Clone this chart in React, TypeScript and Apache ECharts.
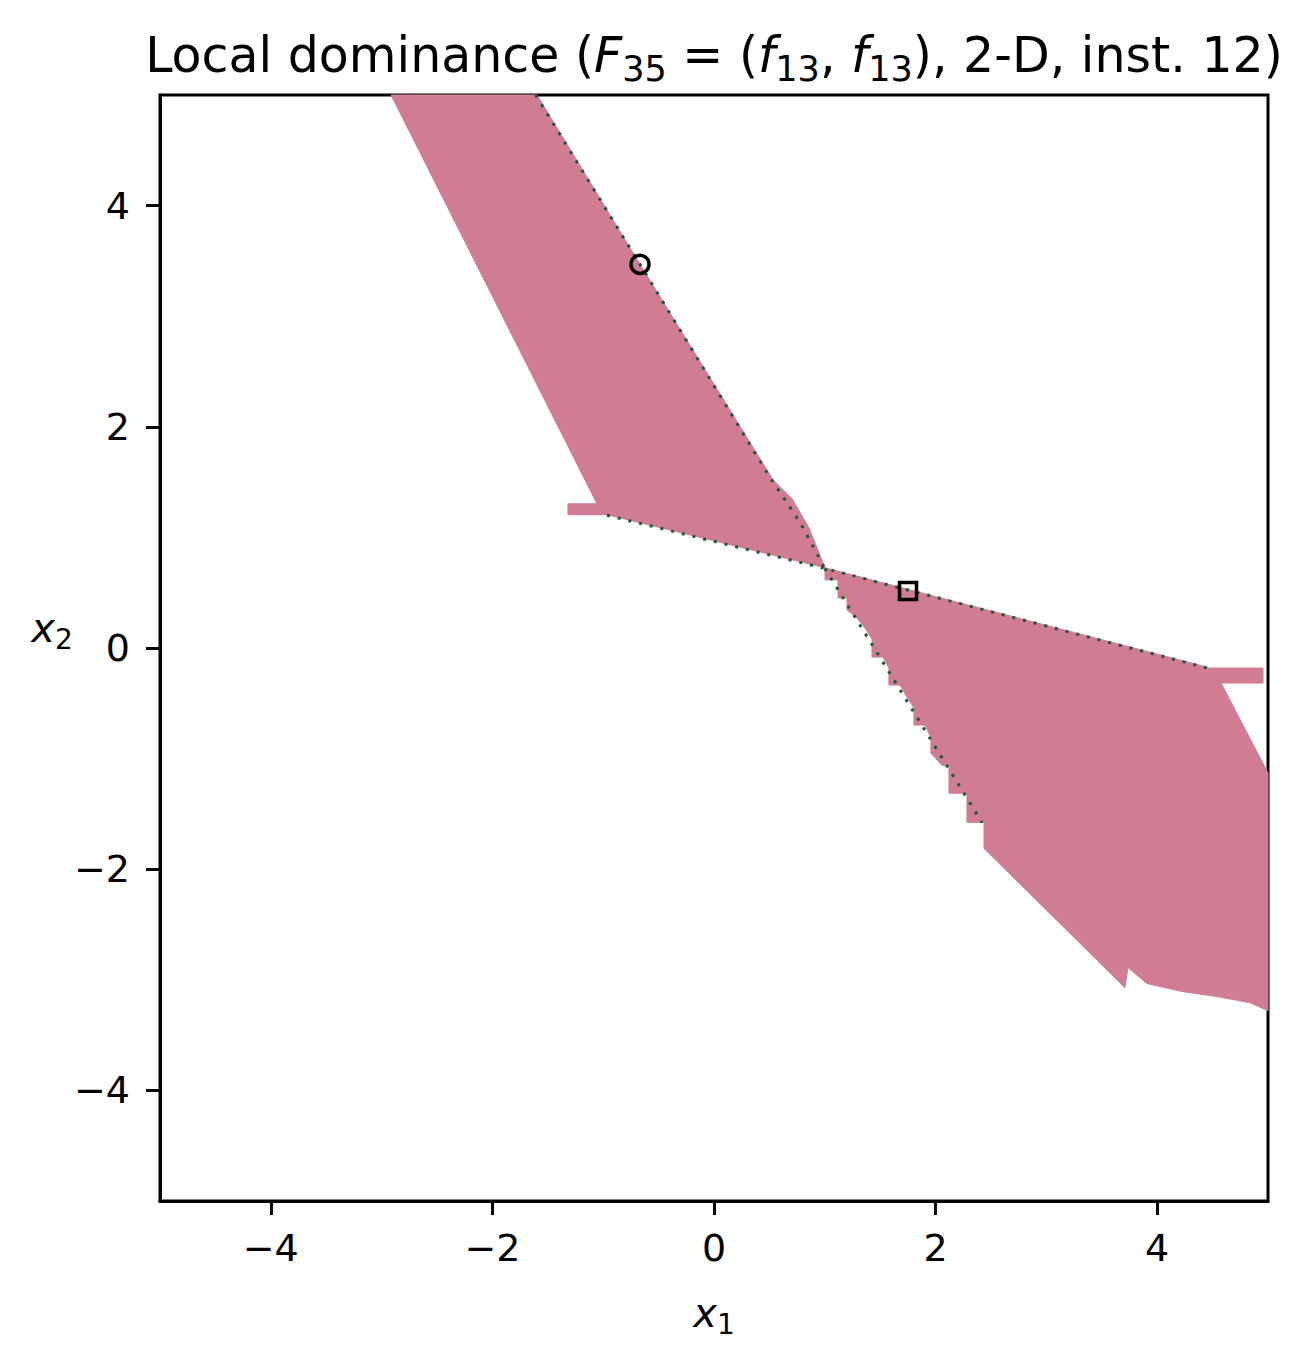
import React, { useEffect, useRef } from "react";
import * as echarts from "echarts";

// Pink region 1 (upper-left lobe), polygon vertices in data coordinates
const upperX = [-2.915, -1.056, -1.318, -1.318, -0.966, 1.002, 0.857, 0.704, 0.532, -0.668, -1.597];
const upperY = [5.0, 1.304, 1.304, 1.205, 1.205, 0.725, 1.087, 1.35, 1.522, 3.469, 5.0];

// Pink region 2 (lower-right lobe)
const lowerX = [1.002, 4.449, 4.449, 4.955, 4.955, 4.576, 5.0, 5.0, 4.838, 4.54, 4.233, 3.908, 3.736, 3.709,
  2.437, 2.437, 2.283, 2.283, 2.121, 2.121, 2.058, 1.958, 1.958, 1.904, 1.805, 1.805, 1.742, 1.679, 1.579,
  1.579, 1.525, 1.426, 1.426, 1.363, 1.282, 1.2, 1.2, 1.119, 1.119, 1.002];
const lowerY = [0.725, -0.172, -0.181, -0.181, -0.317, -0.317, -1.13, -3.279, -3.207, -3.152, -3.107, -3.034, -2.889, -3.071,
  -1.812, -1.576, -1.576, -1.313, -1.313, -1.06, -1.06, -0.951, -0.806, -0.697, -0.697, -0.543, -0.444, -0.335, -0.335,
  -0.181, -0.082, -0.082, 0.082, 0.181, 0.281, 0.344, 0.453, 0.453, 0.616, 0.616];

// Dark-green dotted boundaries
const edgeA: [number, number][] = [[-1.61, 5.0], [-0.668, 3.469], [0.5, 1.55], [0.78, 1.13], [1.0, 0.72]];
const edgeB: [number, number][] = [[-0.966, 1.2], [1.0, 0.72], [4.449, -0.18]];
const edgeC: [number, number][] = [[1.0, 0.72], [1.6, -0.25], [2.42, -1.58]];

// Markers
const circlePoint: [number, number][] = [[-0.668, 3.469]];
const squarePoint: [number, number][] = [[1.751, 0.516]];

const xTicks = [-4, -2, 0, 2, 4];
const yTicks = [-4, -2, 0, 2, 4];

const PINK = "#d07c93";
const GREEN = "#145a38";
const FONT = "DejaVu Sans";

const polygons = [
  { xs: upperX, ys: upperY },
  { xs: lowerX, ys: lowerY },
];

const fmt = (v: number) => (v < 0 ? "\u2212" + Math.abs(v) : String(v));

export default function App() {
  const ref = useRef<HTMLDivElement>(null);
  useEffect(() => {
    document.body.style.margin = "0";
    const chart = echarts.init(ref.current!, null, { renderer: "svg" });
    const dotted = (data: [number, number][]) => ({
      type: "line",
      data,
      symbol: "none",
      silent: true,
      z: 3,
      lineStyle: { color: GREEN, width: 3, type: [3, 8], opacity: 1 },
    });
    const axisCommon = (ticks: number[], margin: number) => ({
      type: "value",
      min: -5,
      max: 5,
      splitLine: { show: false },
      axisLine: { show: true, onZero: false, lineStyle: { color: "#000", width: 3 } },
      axisTick: { show: true, inside: false, length: 14, lineStyle: { color: "#000", width: 3 }, customValues: ticks },
      axisLabel: {
        customValues: ticks,
        formatter: fmt,
        color: "#000",
        fontSize: 38,
        fontFamily: FONT,
        margin,
      },
    });
    chart.setOption({
      animation: false,
      backgroundColor: "#ffffff",
      grid: {
        left: 160,
        right: 46,
        top: 95,
        bottom: 162,
        show: true,
        borderColor: "#000",
        borderWidth: 3,
        backgroundColor: "transparent",
      },
      xAxis: axisCommon(xTicks, 28),
      yAxis: axisCommon(yTicks, 30),
      series: [
        {
          type: "custom",
          coordinateSystem: "cartesian2d",
          data: [[0, 0], [1, 0]],
          silent: true,
          z: 2,
          renderItem: (params: any, api: any) => {
            const poly = polygons[params.dataIndex];
            const points = poly.xs.map((x, i) => api.coord([x, poly.ys[i]]));
            return { type: "polygon", shape: { points }, style: { fill: PINK, stroke: PINK, lineWidth: 1 } };
          },
        },
        dotted(edgeA),
        dotted(edgeB),
        dotted(edgeC),
        {
          type: "scatter",
          data: circlePoint,
          symbol: "circle",
          symbolSize: 18,
          z: 5,
          itemStyle: { color: "transparent", borderColor: "#000", borderWidth: 3.5, opacity: 1 },
        },
        {
          type: "scatter",
          data: squarePoint,
          symbol: "rect",
          symbolSize: 17,
          z: 5,
          itemStyle: { color: "transparent", borderColor: "#000", borderWidth: 3.5, opacity: 1 },
        },
      ],
      graphic: [
        {
          type: "text",
          x: 714,
          y: 55,
          style: {
            text: "{n|Local dominance (}{i|F}{s|35}{n| = (}{i|f}{s|13}{n|, }{i|f}{s|13}{n|), 2-D, inst. 12)}",
            align: "center",
            verticalAlign: "middle",
            fill: "#000",
            rich: {
              n: { fontSize: 49, fontFamily: FONT, lineHeight: 62, fill: "#000" },
              i: { fontSize: 49, fontFamily: FONT, fontStyle: "italic", lineHeight: 62, fill: "#000" },
              s: { fontSize: 35, fontFamily: FONT, lineHeight: 30, verticalAlign: "bottom", fill: "#000" },
            },
          },
        },
        {
          type: "text",
          x: 714,
          y: 1313,
          style: {
            text: "{i|x}{s|1}",
            align: "center",
            verticalAlign: "middle",
            rich: {
              i: { fontSize: 40, fontFamily: FONT, fontStyle: "italic", lineHeight: 50, fill: "#000" },
              s: { fontSize: 28, fontFamily: FONT, lineHeight: 24, verticalAlign: "bottom", fill: "#000" },
            },
          },
        },
        {
          type: "text",
          x: 52,
          y: 628,
          style: {
            text: "{i|x}{s|2}",
            align: "center",
            verticalAlign: "middle",
            rich: {
              i: { fontSize: 40, fontFamily: FONT, fontStyle: "italic", lineHeight: 50, fill: "#000" },
              s: { fontSize: 28, fontFamily: FONT, lineHeight: 24, verticalAlign: "bottom", fill: "#000" },
            },
          },
        },
      ],
    });
    return () => chart.dispose();
  }, []);
  return <div ref={ref} style={{ width: 1314, height: 1363 }} />;
}
